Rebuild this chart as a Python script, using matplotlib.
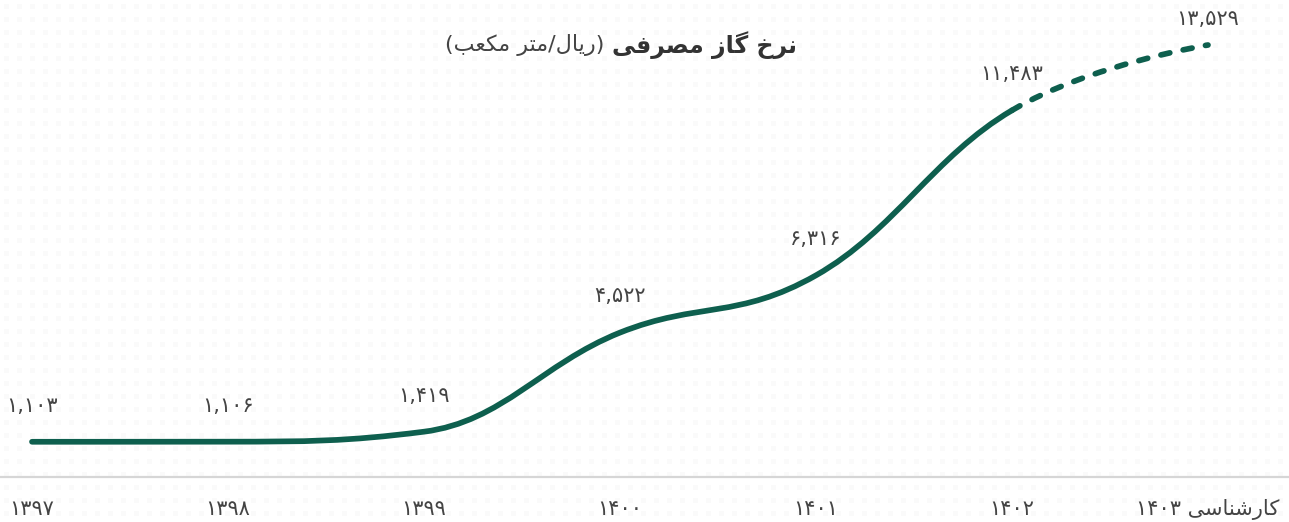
import numpy as np
import matplotlib
matplotlib.use("Agg")
import matplotlib.pyplot as plt
from matplotlib.path import Path
from matplotlib.patches import PathPatch

# ---------------- data ----------------
years = [1397, 1398, 1399, 1400, 1401, 1402, 1403]
values = [1103, 1106, 1419, 4522, 6316, 11483, 13529]
# "کارشناسی" (expert estimate) in visual (pre-shaped) order
estimate_word = "\uFBFD\uFEB3\uFE8E\uFEE8\uFEB7\uFEAD\uFE8E\uFB90"
# title parts (pre-shaped, visual order)
title_bold = "\uFBFD\uFED3\uFEAE\uFEBC\uFEE3 \uFEAF\uFE8E\uFB94 \uFEA5\uFEAE\uFEE7"   # نرخ گاز مصرفی
title_unit = "(\uFE90\uFECC\uFB91\uFEE3 \uFEAE\uFE98\uFEE3/\uFEDD\uFE8E\uFBFE\uFEAD)"  # (ریال/متر مکعب)

FA_DIGITS = str.maketrans("0123456789", "\u06F0\u06F1\u06F2\u06F3\u06F4\u06F5\u06F6\u06F7\u06F8\u06F9")

def fa(s):
    return str(s).translate(FA_DIGITS)

tick_labels = [fa(y) for y in years[:-1]] + [fa(years[-1]) + " " + estimate_word]
value_labels = [fa(f"{v:,}") for v in values]

# ---------------- figure ----------------
W, H = 1289, 522
fig = plt.figure(figsize=(W / 100, H / 100), dpi=100)
fig.patch.set_facecolor("white")

# faint dotted background texture
yy, xx = np.mgrid[0:H, 0:W]
tex = np.ones((H, W, 3))
d = ((xx % 13 - 6) ** 2 + (yy % 13 - 6) ** 2) < 9
tex[d] = 0.984
fig.figimage(tex, xo=0, yo=0, zorder=-5)

left_px, step_px = 32, 196
base_px = 45  # from bottom
ax = fig.add_axes([0, base_px / H, 1, (H - base_px) / H])
ax.set_zorder(2)
ax.patch.set_alpha(0)
ax.set_xlim(-left_px / step_px, (W - left_px) / step_px)
top_val = 13529 + 45 / ((H - base_px - 45) / 13529)
ax.set_ylim(0, top_val)

x = np.arange(len(years))

fig.canvas.draw()
# work in screen-like coords (y downward) for a Highcharts-style spline
P = ax.transData.transform(np.column_stack([x, values]))
P[:, 1] = H - P[:, 1]

def spline_cps(pts):
    n = len(pts)
    left = [None] * n
    right = [None] * n
    sm, den = 1.5, 2.5
    for i in range(1, n - 1):
        lx, ly = pts[i - 1]
        px, py = pts[i]
        nx, ny = pts[i + 1]
        lcx = (sm * px + lx) / den
        lcy = (sm * py + ly) / den
        rcx = (sm * px + nx) / den
        rcy = (sm * py + ny) / den
        corr = 0.0
        if rcx != lcx:
            corr = (rcy - lcy) * (rcx - px) / (rcx - lcx) + py - rcy
        lcy += corr
        rcy += corr
        if lcy > ly and lcy > py:
            lcy = max(ly, py); rcy = 2 * py - lcy
        elif lcy < ly and lcy < py:
            lcy = min(ly, py); rcy = 2 * py - lcy
        if rcy > ny and rcy > py:
            rcy = max(ny, py); lcy = 2 * py - rcy
        elif rcy < ny and rcy < py:
            rcy = min(ny, py); lcy = 2 * py - rcy
        left[i] = np.array([lcx, lcy])
        right[i] = np.array([rcx, rcy])
    left[0] = right[0] = pts[0]
    left[-1] = right[-1] = pts[-1]
    return left, right

Lc, Rc = spline_cps(P)
inv = ax.transData.inverted()
color = "#0e5f4e"

def to_data(arr):
    arr = np.array(arr, dtype=float)
    arr[:, 1] = H - arr[:, 1]
    return inv.transform(arr)

def seg_path(i0, i1):
    verts = [P[i0]]
    codes = [Path.MOVETO]
    for i in range(i0, i1):
        verts += [Rc[i], Lc[i + 1], P[i + 1]]
        codes += [Path.CURVE4] * 3
    return Path(to_data(verts), codes)

LW = 4.1
solid = PathPatch(seg_path(0, 5), fill=False, edgecolor=color, lw=LW,
                  capstyle="round", joinstyle="round", zorder=3)
ax.add_patch(solid)
dashed = PathPatch(seg_path(5, 6), fill=False, edgecolor=color, lw=LW,
                   capstyle="round", zorder=3)
dashed.set_linestyle((0, (1.6, 2.4)))
ax.add_patch(dashed)

label_offsets = [26, 26, 26, 26, 26, 26, 19]
for xi, v, lab, off in zip(x, values, value_labels, label_offsets):
    ax.annotate(lab, (xi, v), xytext=(0, off), textcoords="offset points",
                ha="center", va="center", fontsize=15, color="#444444",
                family="DejaVu Sans")

for s in ["top", "left", "right"]:
    ax.spines[s].set_visible(False)
ax.spines["bottom"].set_color("#d6d6d6")
ax.spines["bottom"].set_linewidth(1.6)
ax.set_yticks([])
ax.set_xticks(x)
ax.set_xticklabels(tick_labels, fontsize=15, color="#444444", family="DejaVu Sans")
ax.tick_params(axis="x", length=0, pad=16)

# title
fig.text(612 / W, 1 - 45 / H, title_bold, ha="left", va="center",
         fontsize=17, fontweight="bold", color="#333333", family="DejaVu Sans")
fig.text(604 / W, 1 - 45 / H, title_unit, ha="right", va="center",
         fontsize=16, color="#444444", family="DejaVu Sans")

fig.savefig("out.png", dpi=100)
